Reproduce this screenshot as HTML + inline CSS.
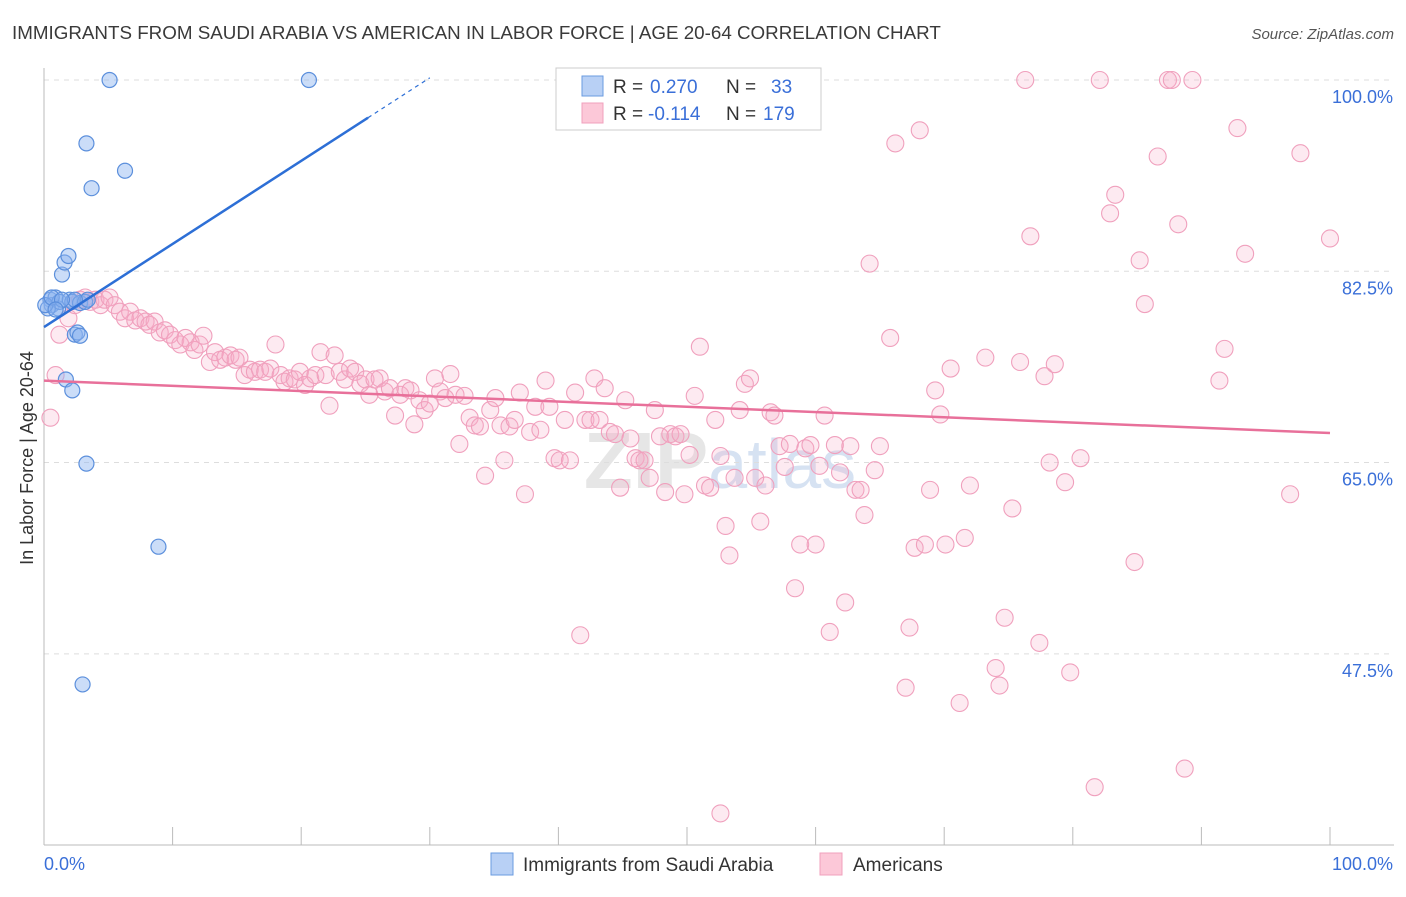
<!DOCTYPE html>
<html><head><meta charset="utf-8"><style>
body{margin:0;background:#fff;font-family:"Liberation Sans",sans-serif;}
svg text{font-family:"Liberation Sans",sans-serif;}
</style></head><body>
<svg id="chart" width="1406" height="892" xmlns="http://www.w3.org/2000/svg">
<text x="12" y="39" font-size="18.8" fill="#3a3a3a">IMMIGRANTS FROM SAUDI ARABIA VS AMERICAN IN LABOR FORCE | AGE 20-64 CORRELATION CHART</text>
<text x="1394" y="39" font-size="15" fill="#555" font-style="italic" text-anchor="end">Source: ZipAtlas.com</text>
<text x="33" y="458" font-size="18" fill="#333" text-anchor="middle" transform="rotate(-90 33 458)">In Labor Force | Age 20-64</text>
<text x="720" y="488" font-size="80" fill="#e6e6e6" text-anchor="middle" font-weight="bold">ZIP<tspan fill="#d6e2f2" font-weight="normal" font-size="70">atlas</tspan></text>
<g id="grid"></g><g id="axes"></g><g id="pink"></g><g id="blue"></g><g id="trend"></g>
<g>
<rect x="556" y="68" width="265" height="62" fill="#fff" stroke="#ccc"/>
<rect x="582" y="76" width="21" height="20" fill="#b8d0f5" stroke="#6a9be0"/>
<rect x="582" y="103" width="21" height="20" fill="#fcc8d8" stroke="#f0a0bd"/>
<text x="613" y="93" font-size="19" fill="#333">R =</text>
<text x="650" y="93" font-size="19" fill="#3a6fd8">0.270</text>
<text x="726" y="93" font-size="19" fill="#333">N =</text>
<text x="771" y="93" font-size="19" fill="#3a6fd8">33</text>
<text x="613" y="120" font-size="19" fill="#333">R =</text>
<text x="648" y="120" font-size="19" fill="#3a6fd8">-0.114</text>
<text x="726" y="120" font-size="19" fill="#333">N =</text>
<text x="763" y="120" font-size="19" fill="#3a6fd8">179</text>
</g>
<g>
<rect x="491" y="853" width="22" height="22" fill="#b8d0f5" stroke="#6a9be0"/>
<text x="523" y="871" font-size="19" fill="#333">Immigrants from Saudi Arabia</text>
<rect x="820" y="853" width="22" height="22" fill="#fcc8d8" stroke="#f0a0bd"/>
<text x="853" y="871" font-size="19" fill="#333">Americans</text>
</g>
</svg>
<script>
const yTicks=[100,82.5,65,47.5];
const yTickLabels=["100.0%","82.5%","65.0%","47.5%"];
const pinkX=[0.5,0.9,1.2,1.9,2.4,2.8,3.2,3.6,4.0,4.4,4.7,5.1,5.5,5.9,6.3,6.7,7.1,7.5,7.9,8.2,8.6,9.0,9.4,9.8,10.2,10.6,11.0,11.4,11.7,12.1,12.4,12.9,13.3,13.7,14.1,14.5,14.9,15.2,15.6,16.0,16.4,16.8,17.2,17.6,18.0,18.4,18.7,19.1,19.5,19.9,20.3,20.7,21.1,21.5,21.9,22.2,22.6,23.0,23.4,23.8,24.2,24.6,25.0,25.3,25.7,26.1,26.5,26.9,27.3,27.7,28.1,28.5,28.8,29.2,29.6,30.0,30.4,30.8,31.2,31.6,32.0,32.3,32.7,33.1,33.5,33.9,34.3,34.7,35.1,35.5,35.8,36.2,36.6,37.0,37.4,37.8,38.2,38.6,39.0,39.3,39.7,40.1,40.5,40.9,41.3,41.7,42.1,42.5,42.8,43.2,43.6,44.0,44.4,44.8,45.2,45.6,46.0,46.3,46.7,47.1,47.5,47.9,48.3,48.7,49.1,49.5,49.8,50.2,50.6,51.0,51.4,51.8,52.2,52.6,53.0,53.3,53.7,54.1,54.5,54.9,55.3,55.7,56.1,56.5,56.8,57.2,57.6,58.0,58.4,58.8,59.2,59.6,60.0,60.3,60.7,61.1,61.5,61.9,62.3,62.7,63.1,63.5,63.8,64.2,64.6,65.0,65.8,66.2,67.0,67.3,67.7,68.1,68.5,68.9,69.3,69.7,70.1,70.5,71.2,71.6,72.0,73.2,74.0,74.3,74.7,75.3,75.9,76.3,76.7,77.4,77.8,78.2,78.6,79.4,79.8,80.6,81.7,82.1,82.9,83.3,84.8,85.2,85.6,86.6,87.4,87.7,88.2,88.7,89.3,91.4,91.8,92.8,93.4,96.9,97.7,100.0,52.6];
const pinkY=[69.1,73.0,76.7,78.2,79.4,79.9,80.1,79.7,79.9,79.4,79.9,80.1,79.4,78.8,78.2,78.8,78.0,78.2,77.9,77.6,77.9,76.9,77.1,76.7,76.2,75.8,76.4,76.0,75.3,75.8,76.6,74.2,75.1,74.4,74.6,74.8,74.4,74.6,73.0,73.5,73.3,73.5,73.3,73.6,75.8,73.0,72.4,72.7,72.6,73.3,72.1,72.7,73.0,75.1,73.0,70.2,74.8,73.3,72.6,73.6,73.3,72.2,72.6,71.2,72.6,72.7,71.5,71.8,69.3,71.2,71.8,71.6,68.5,70.7,69.8,70.4,72.7,71.5,70.9,73.1,71.2,66.7,71.1,69.1,68.4,68.3,63.8,69.8,70.9,68.4,65.2,68.3,68.9,71.4,62.1,67.8,70.1,68.0,72.5,70.1,65.4,65.2,68.9,65.2,71.4,49.2,68.9,68.9,72.7,68.9,71.8,67.8,67.6,62.7,70.7,67.2,65.4,65.2,65.2,63.6,69.8,67.4,62.3,67.6,67.4,67.6,62.1,65.7,71.1,75.6,62.9,62.7,68.9,65.6,59.2,56.5,63.6,69.8,72.2,72.7,63.6,59.6,62.9,69.6,69.3,66.5,64.6,66.7,53.5,57.5,66.3,66.6,57.5,64.7,69.3,49.5,66.6,64.1,52.2,66.5,62.5,62.5,60.2,83.2,64.3,66.5,76.4,94.2,44.4,49.9,57.2,95.4,57.5,62.5,71.6,69.4,57.5,73.6,43.0,58.1,62.9,74.6,46.2,44.6,50.8,60.8,74.2,100,85.7,48.5,72.9,65.0,74.0,63.2,45.8,65.4,35.3,100,87.8,89.5,55.9,83.5,79.5,93.0,100,100,86.8,37.0,100,72.5,75.4,95.6,84.1,62.1,93.3,85.5,32.9];
const blueX=[0.5,0.6,0.9,1.1,1.2,1.4,1.6,1.9,2.0,2.2,2.4,2.6,2.8,3.2,3.4,1.7,2.2,3.3,3.3,3.7,5.1,6.3,8.9,3.0,20.6,0.3,0.1,0.6,2.4,1.4,0.9,2.8];
const blueY=[79.9,79.4,80.1,79.1,79.7,82.2,83.3,83.9,79.9,79.7,76.7,76.9,79.6,79.7,79.9,72.6,71.6,64.9,94.2,90.1,100,91.7,57.3,44.7,100,79.1,79.4,80.1,79.9,79.9,79.0,76.6];
const blueTrend=[77.4,0.76];
const pinkTrend=[72.5,-0.048];

const NS="http://www.w3.org/2000/svg";
const X=v=>44+v*12.86;
const Y=v=>80+(100-v)*10.93;
function mk(tag,attrs,parent){const e=document.createElementNS(NS,tag);for(const k in attrs)e.setAttribute(k,attrs[k]);parent.appendChild(e);return e;}
const grid=document.getElementById('grid'),axes=document.getElementById('axes');
yTicks.forEach((t,i)=>{
  const l=mk('line',{x1:44,x2:1394,y1:Y(t),y2:Y(t),stroke:'#ddd','stroke-dasharray':'5,5'},grid);
  
  
  const tx=mk('text',{x:1393,y:Y(t)+23,'font-size':18,fill:'#3a6fd8','text-anchor':'end'},grid);
  tx.textContent=yTickLabels[i];
  
  
});
mk('line',{x1:44,x2:44,y1:68,y2:845,stroke:'#bbb'},axes);
mk('line',{x1:44,x2:1394,y1:845,y2:845,stroke:'#bbb'},axes);
for(let i=0;i<=10;i++){const tk=mk('line',{x1:X(i*10),x2:X(i*10),y1:827,y2:845,stroke:'#bbb'},axes);
  
  }
const xl0=mk('text',{x:44,y:870,'font-size':18,fill:'#3a6fd8'},axes);xl0.textContent='0.0%';


const xl1=mk('text',{x:1393,y:870,'font-size':18,fill:'#3a6fd8','text-anchor':'end'},axes);xl1.textContent='100.0%';



const pg=document.getElementById('pink');
pinkX.forEach((x,i)=>{const c=mk('circle',{cx:X(x),cy:Y(pinkY[i]),r:8.5,fill:'rgba(248,170,200,0.25)',stroke:'#f0a0bd','stroke-width':1.1},pg);
  
  });
const bg=document.getElementById('blue');
blueX.forEach((x,i)=>{const c=mk('circle',{cx:X(x),cy:Y(blueY[i]),r:7.5,fill:'rgba(140,180,240,0.45)',stroke:'#5b8fdc','stroke-width':1.2},bg);
  
  });
const tg=document.getElementById('trend');
const bl=mk('line',{x1:X(0),y1:Y(blueTrend[0]),x2:X(25.2),y2:Y(blueTrend[0]+blueTrend[1]*25.2),stroke:'#2d6fd6','stroke-width':2.5},tg);


const bd=mk('line',{x1:X(25.2),y1:Y(blueTrend[0]+blueTrend[1]*25.2),x2:X(30),y2:Y(blueTrend[0]+blueTrend[1]*30),stroke:'#2d6fd6','stroke-width':1.2,'stroke-dasharray':'4,4'},tg);


const pl=mk('line',{x1:X(0),y1:Y(pinkTrend[0]),x2:X(100),y2:Y(pinkTrend[0]+pinkTrend[1]*100),stroke:'#e8709a','stroke-width':2.5},tg);


</script>
</body></html>
